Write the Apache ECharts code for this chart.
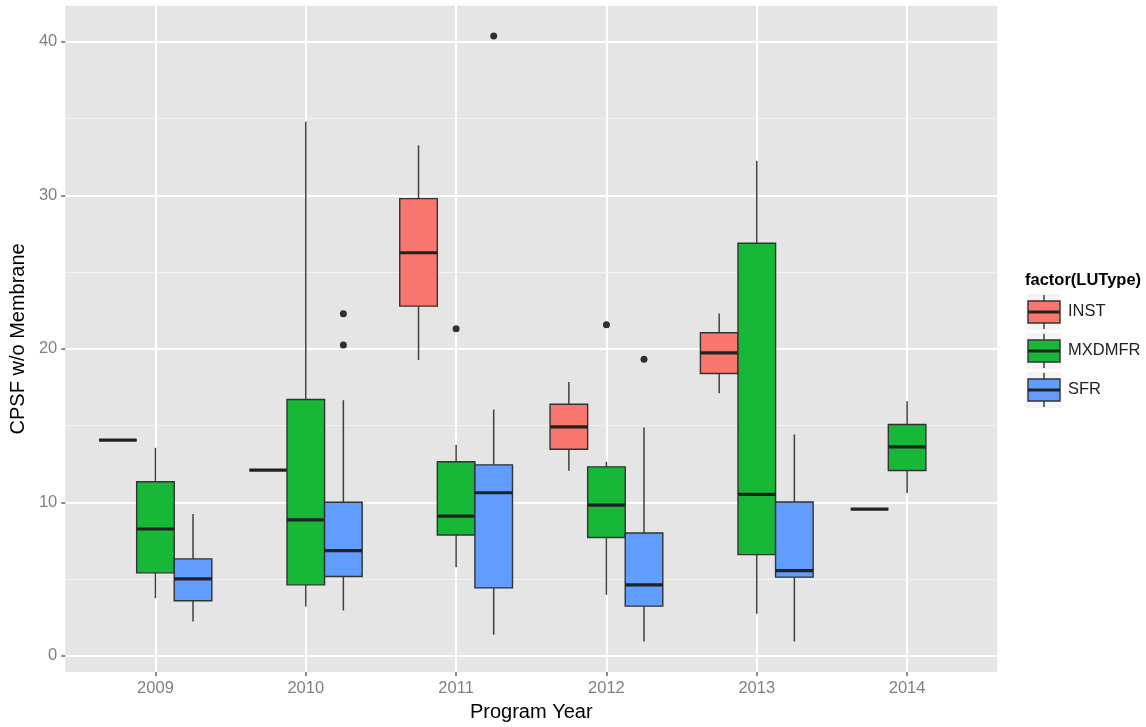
<!DOCTYPE html>
<html>
<head>
<meta charset="utf-8">
<script src="https://cdn.jsdelivr.net/npm/echarts@6/dist/echarts.min.js"></script>
<style>
  html, body { margin: 0; padding: 0; background: #fff; }
  #chart { width: 1146px; height: 727px; }
</style>
</head>
<body>
<div id="chart"></div>
<script>
// ---- data ----
const years = [2009, 2010, 2011, 2012, 2013, 2014];
const groups = ['INST', 'MXDMFR', 'SFR'];
const groupColors = ['#F8766D', '#17B838', '#619CFF'];
const yTicks = [0, 10, 20, 30, 40];
const yMinorTicks = [5, 15, 25, 35];

// [lowerWhisker, q1, median, q3, upperWhisker] per year (null = no data)
const instStats = [
  [14.05, 14.05, 14.05, 14.05, 14.05],
  [12.1, 12.1, 12.1, 12.1, 12.1],
  [19.27, 22.78, 26.26, 29.79, 33.26],
  [12.05, 13.46, 14.92, 16.39, 17.84],
  [17.1, 18.39, 19.73, 21.05, 22.31],
  [9.56, 9.56, 9.56, 9.56, 9.56]
];
const mxdmfrStats = [
  [3.75, 5.4, 8.26, 11.34, 13.55],
  [3.21, 4.62, 8.85, 16.7, 34.8],
  [5.77, 7.87, 9.1, 12.64, 13.75],
  [3.97, 7.7, 9.82, 12.31, 12.64],
  [2.73, 6.59, 10.51, 26.88, 32.26],
  [10.6, 12.07, 13.61, 15.07, 16.59]
];
const sfrStats = [
  [2.23, 3.58, 5.01, 6.31, 9.24],
  [2.95, 5.16, 6.85, 10.0, 16.65],
  [1.37, 4.42, 10.62, 12.44, 16.04],
  [0.93, 3.23, 4.62, 8.0, 14.87],
  [0.93, 5.12, 5.55, 10.02, 14.42],
  null
];
// outliers: [year, value]
const instOutliers = [];
const mxdmfrOutliers = [[2011, 21.31], [2012, 21.57]];
const sfrOutliers = [[2010, 22.29], [2010, 20.25], [2011, 40.39], [2012, 19.32]];

// ---- layout helpers ----
const statsByGroup = [instStats, mxdmfrStats, sfrStats];
const outliersByGroup = [instOutliers, mxdmfrOutliers, sfrOutliers];
const BOX_W = 0.25;                 // width of one box in x units
const dodge = [-BOX_W, 0, BOX_W];   // dodge offsets per group

function makeRender(color) {
  return function (params, api) {
    const x = api.value(0);
    const lo = api.value(1), q1 = api.value(2), med = api.value(3), q3 = api.value(4), hi = api.value(5);
    const h = BOX_W / 2;
    const tl = api.coord([x - h, q3]);
    const br = api.coord([x + h, q1]);
    const pHi = api.coord([x, hi]);
    const pLo = api.coord([x, lo]);
    const mL = api.coord([x - h, med]);
    const mR = api.coord([x + h, med]);
    const cx = pHi[0];
    const whisk = { stroke: '#404040', lineWidth: 1.5 };
    return {
      type: 'group',
      children: [
        { type: 'line', shape: { x1: cx, y1: pHi[1], x2: cx, y2: tl[1] }, style: whisk },
        { type: 'line', shape: { x1: cx, y1: br[1], x2: cx, y2: pLo[1] }, style: whisk },
        { type: 'rect', shape: { x: tl[0], y: tl[1], width: br[0] - tl[0], height: br[1] - tl[1] },
          style: { fill: color, stroke: '#333333', lineWidth: 1.4 } },
        { type: 'line', shape: { x1: mL[0], y1: mL[1], x2: mR[0], y2: mR[1] },
          style: { stroke: '#222222', lineWidth: 3.2 } }
      ]
    };
  };
}

const series = [];
groups.forEach(function (g, gi) {
  const data = [];
  years.forEach(function (yr, yi) {
    const s = statsByGroup[gi][yi];
    if (s) data.push([yr + dodge[gi]].concat(s));
  });
  series.push({
    name: g,
    type: 'custom',
    renderItem: makeRender(groupColors[gi]),
    data: data,
    encode: { x: 0, y: [1, 2, 3, 4, 5] },
    clip: false,
    z: 3
  });
});
groups.forEach(function (g, gi) {
  const pts = outliersByGroup[gi].map(function (o) { return [o[0] + dodge[gi], o[1]]; });
  if (pts.length) {
    series.push({
      name: g + ' outliers',
      type: 'scatter',
      data: pts,
      symbol: 'circle',
      symbolSize: 7,
      itemStyle: { color: '#000' },
      z: 4,
      silent: true
    });
  }
});

// ---- legend drawn as graphic ----
const FONT = 'Liberation Sans, Arial, sans-serif';
const legendLeft = 1026;
const legendTitleY = 282;
const keyY0 = 312, keyStep = 39;
const graphics = [
  { type: 'text', left: 1025, top: legendTitleY - 10,
    style: { text: 'factor(LUType)', fontFamily: FONT, fontSize: 16.5, fontWeight: 'bold', fill: '#000' } }
];
groups.forEach(function (g, gi) {
  const cy = keyY0 + gi * keyStep;
  graphics.push({ type: 'rect', shape: { x: legendLeft, y: cy - 18.5, width: 36, height: 37 },
    style: { fill: '#F4F4F4', stroke: '#fff', lineWidth: 1 } });
  graphics.push({ type: 'line', shape: { x1: legendLeft + 18, y1: cy - 17, x2: legendLeft + 18, y2: cy + 17 },
    style: { stroke: '#404040', lineWidth: 1.5 } });
  graphics.push({ type: 'rect', shape: { x: legendLeft + 2, y: cy - 11, width: 32, height: 22 },
    style: { fill: groupColors[gi], stroke: '#333', lineWidth: 1.4 } });
  graphics.push({ type: 'line', shape: { x1: legendLeft + 2, y1: cy, x2: legendLeft + 34, y2: cy },
    style: { stroke: '#222', lineWidth: 3 } });
  graphics.push({ type: 'text', left: 1068, top: cy - 9,
    style: { text: g, fontFamily: FONT, fontSize: 16.5, fill: '#222' } });
});

const chart = echarts.init(document.getElementById('chart'), null, { renderer: 'canvas' });
chart.setOption({
  animation: false,
  backgroundColor: '#ffffff',
  grid: {
    left: 65, right: 148.7, top: 5.7, bottom: 53.7,
    show: true, backgroundColor: '#E5E5E5', borderWidth: 0
  },
  xAxis: {
    type: 'value',
    min: 2008.4, max: 2014.6,
    position: 'bottom',
    name: 'Program Year',
    nameLocation: 'middle',
    nameGap: 30,
    nameTextStyle: { fontFamily: FONT, fontSize: 20, color: '#000' },
    axisLine: { show: false, onZero: false },
    axisTick: { show: true, length: 4, customValues: years, lineStyle: { color: '#666', width: 1.5 } },
    axisLabel: { customValues: years, margin: 8, fontFamily: FONT, fontSize: 16.5, color: '#808080',
      formatter: function (v) { return String(Math.round(v)); } },
    splitLine: { show: true, lineStyle: { color: '#ffffff', width: 2 } }
  },
  yAxis: [
    {
      type: 'value',
      min: -1.06, max: 42.36,
      name: 'CPSF w/o Membrane',
      nameLocation: 'middle',
      nameGap: 36,
      nameRotate: 90,
      nameTextStyle: { fontFamily: FONT, fontSize: 20, color: '#000' },
      axisLine: { show: false, onZero: false },
      axisTick: { show: true, length: 4, customValues: yTicks, lineStyle: { color: '#666', width: 1.5 } },
      axisLabel: { customValues: yTicks, margin: 8, fontFamily: FONT, fontSize: 16.5, color: '#808080' },
      splitLine: { show: true, lineStyle: { color: '#ffffff', width: 2 } },
      z: 2
    },
    {
      type: 'value',
      min: -1.06, max: 42.36,
      position: 'left',
      axisLine: { show: false, onZero: false },
      axisTick: { show: false, customValues: yMinorTicks },
      axisLabel: { show: false, customValues: yMinorTicks },
      splitLine: { show: true, lineStyle: { color: '#F2F2F2', width: 1 } },
      z: 1
    }
  ],
  series: series,
  graphic: graphics
});
</script>
</body>
</html>
